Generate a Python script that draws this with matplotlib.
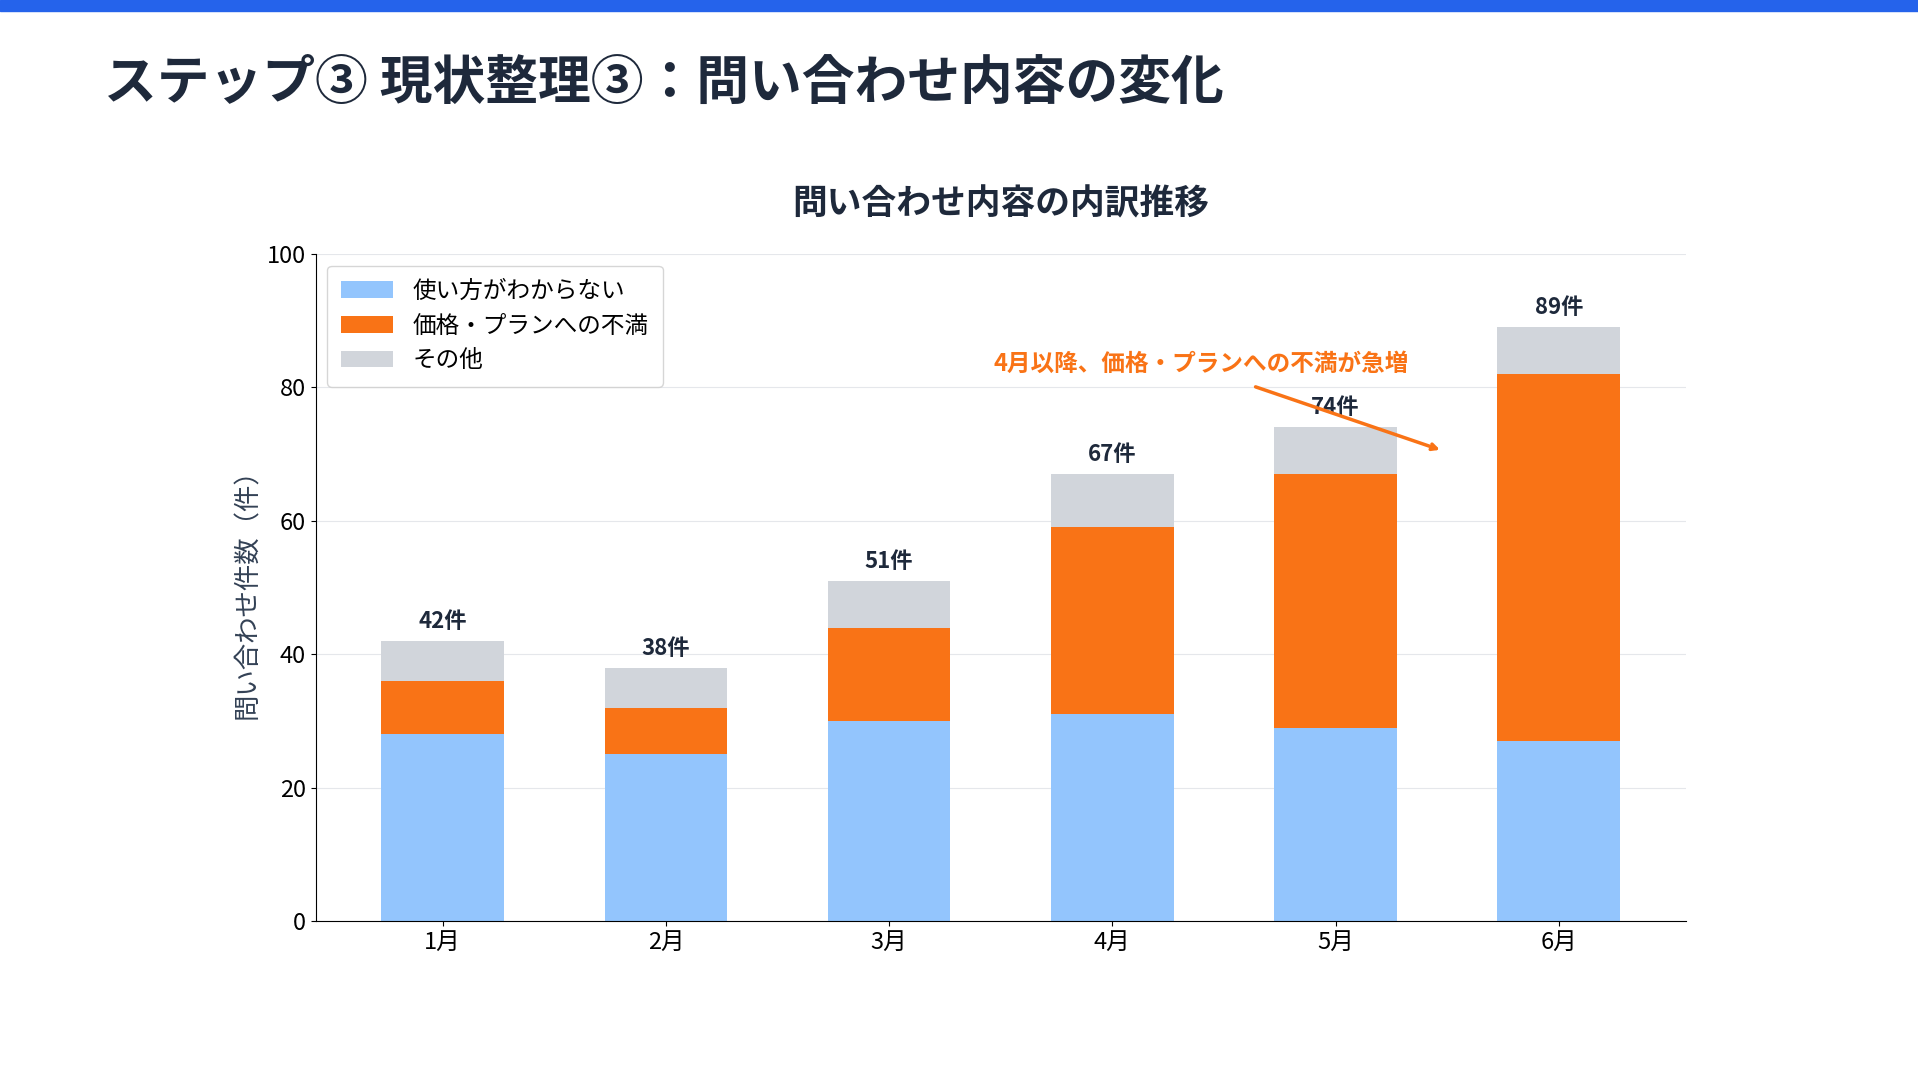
import matplotlib
matplotlib.use('Agg')
from matplotlib import pyplot as plt
import numpy as np

plt.rcParams['font.family'] = ['Noto Sans CJK JP', 'DejaVu Sans']

months = ['1月', '2月', '3月', '4月', '5月', '6月']
usage = [28, 25, 30, 31, 29, 27]
price = [8, 7, 14, 28, 38, 55]
other = [6, 6, 7, 8, 7, 7]
totals = [42, 38, 51, 67, 74, 89]

navy = '#1E293B'
fig = plt.figure(figsize=(19.18, 10.8), dpi=100)
fig.patches.append(plt.Rectangle((0, 0.99), 1, 0.01, transform=fig.transFigure, color='#2563EB'))
fig.text(0.054, 0.923, 'ステップ③ 現状整理③：問い合わせ内容の変化', fontsize=38, fontweight='bold',
         color=navy, va='center')

ax = fig.add_axes([0.1645, 0.147, 0.7145, 0.618])
x = np.arange(len(months))
w = 0.55
ax.bar(x, usage, w, color='#93C5FD', label='使い方がわからない')
ax.bar(x, price, w, bottom=usage, color='#F97316', label='価格・プランへの不満')
bottom2 = np.array(usage) + np.array(price)
ax.bar(x, other, w, bottom=bottom2, color='#D1D5DB', label='その他')
for i, t in enumerate(totals):
    ax.text(x[i], t + 1.2, f'{t}件', ha='center', va='bottom', fontsize=16, fontweight='bold', color=navy)

ax.set_ylim(0, 100)
ax.set_xlim(-0.57, 5.57)
ax.set_xticks(x, months)
ax.tick_params(labelsize=17)
ax.set_ylabel('問い合わせ件数（件）', fontsize=19, color='#334155')
ax.set_title('問い合わせ内容の内訳推移', fontsize=25, fontweight='bold', color=navy, pad=28)
ax.yaxis.grid(True, color='#E5E7EB')
ax.set_axisbelow(True)
for s in ['top', 'right']:
    ax.spines[s].set_visible(False)
ax.legend(loc='upper left', fontsize=17, handlelength=2.2, borderpad=0.6)

ax.annotate('', xy=(4.48, 70.5), xytext=(3.63, 80.2),
            arrowprops=dict(arrowstyle='->', color='#F97316', lw=2.5))
ax.text(3.40, 83.5, '4月以降、価格・プランへの不満が急増', ha='center', va='center',
        fontsize=17, fontweight='bold', color='#F97316')

fig.savefig('out.png', dpi=100)
